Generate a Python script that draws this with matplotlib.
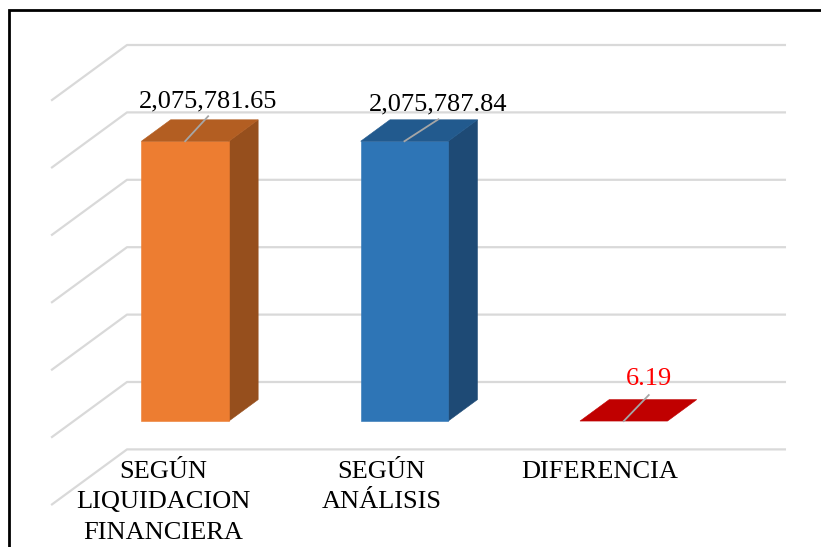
import matplotlib
matplotlib.use('Agg')
import matplotlib.pyplot as plt
from matplotlib.patches import Polygon

categories = ['SEGÚN\nLIQUIDACION\nFINANCIERA', 'SEGÚN\nANÁLISIS', 'DIFERENCIA']
values = [2075781.65, 2075787.84, 6.19]
value_labels = ['2,075,781.65', '2,075,787.84', '6.19']
ticks = [-500000, 0, 500000, 1000000, 1500000, 2000000, 2500000]

front_colors = ['#ED7D31', '#2E75B6', '#C00000']
top_colors = ['#B35E22', '#225A8E', '#C00000']
side_colors = ['#964F1D', '#1E4A75', '#C00000']
label_colors = ['black', 'black', '#FF0000']

W, H = 821, 547
# fake 3d: wall starts at x=127 in pixels, floor (value 0) at y=382
X0, Y0 = 127.0, 382.0
CAT_W = 219.3
PX_PER_VAL = 67.4 / 500000
DEPTH_X, DEPTH_Y = 75.0, 55.0
BAR_W = 87.5
D1, D2 = 0.29, 0.68

# leader line offsets in pixels and label gap above its end
leaders = [(23, -25), (34, -22), (25, -26)]
label_gap = [9, 9, 10]
tick_x = [163, 381.5, 600]


def proj(cat, val, depth):
    # cat in category units, val in data units, depth 0 front .. 1 back wall
    x = X0 + cat * CAT_W - (1 - depth) * DEPTH_X
    y = Y0 - val * PX_PER_VAL + (1 - depth) * DEPTH_Y
    return x, y


plt.rcParams['font.family'] = ['Liberation Serif', 'DejaVu Serif']
fig = plt.figure(figsize=(W / 100, H / 100), dpi=100)
ax = fig.add_axes([0, 0, 1, 1])
ax.set_xlim(0, W)
ax.set_ylim(H, 0)
ax.axis('off')

# frame, open at the bottom and on the right
ax.plot([9, 9, W], [H, 10, 10], color='black', lw=2.0, solid_joinstyle='miter', zorder=6)

# gridlines on wall and side
for t in ticks:
    xa, ya = proj(0, t, 0)
    xb, yb = proj(0, t, 1)
    xc, yc = proj(3, t, 1)
    ax.plot([xa, xb, xc], [ya, yb, yc], color='#D9D9D9', lw=1.6, zorder=1)

half = BAR_W / 2 / CAT_W
for i, v in enumerate(values):
    c = i + 0.508
    fl = proj(c - half, 0, D1)
    fr = proj(c + half, 0, D1)
    tl = proj(c - half, v, D1)
    tr = proj(c + half, v, D1)
    btl = proj(c - half, v, D2)
    btr = proj(c + half, v, D2)
    bbr = proj(c + half, 0, D2)
    if v > 1000:
        ax.add_patch(Polygon([fr, bbr, btr, tr], fc=side_colors[i], ec=side_colors[i], lw=0.4, zorder=3))
        ax.add_patch(Polygon([fl, fr, tr, tl], fc=front_colors[i], ec=front_colors[i], lw=0.4, zorder=3))
    ax.add_patch(Polygon([tl, tr, btr, btl], fc=top_colors[i], ec=top_colors[i], lw=0.4, zorder=3))

    # leader line from the middle of the front edge up to the label
    lx0, ly0 = proj(c, v, D1)
    lx1, ly1 = lx0 + leaders[i][0], ly0 + leaders[i][1]
    ax.plot([lx0, lx1], [ly0, ly1], color='#A6A6A6', lw=1.3, zorder=4)
    ax.text(lx1, ly1 - label_gap[i], value_labels[i], color=label_colors[i], fontsize=19,
            ha='center', va='baseline', zorder=5)

for i, name in enumerate(categories):
    ax.text(tick_x[i], 461, name, fontsize=19, color='black', ha='center', va='top',
            linespacing=1.49, zorder=5, multialignment='center')

fig.savefig('out.png', dpi=100)
